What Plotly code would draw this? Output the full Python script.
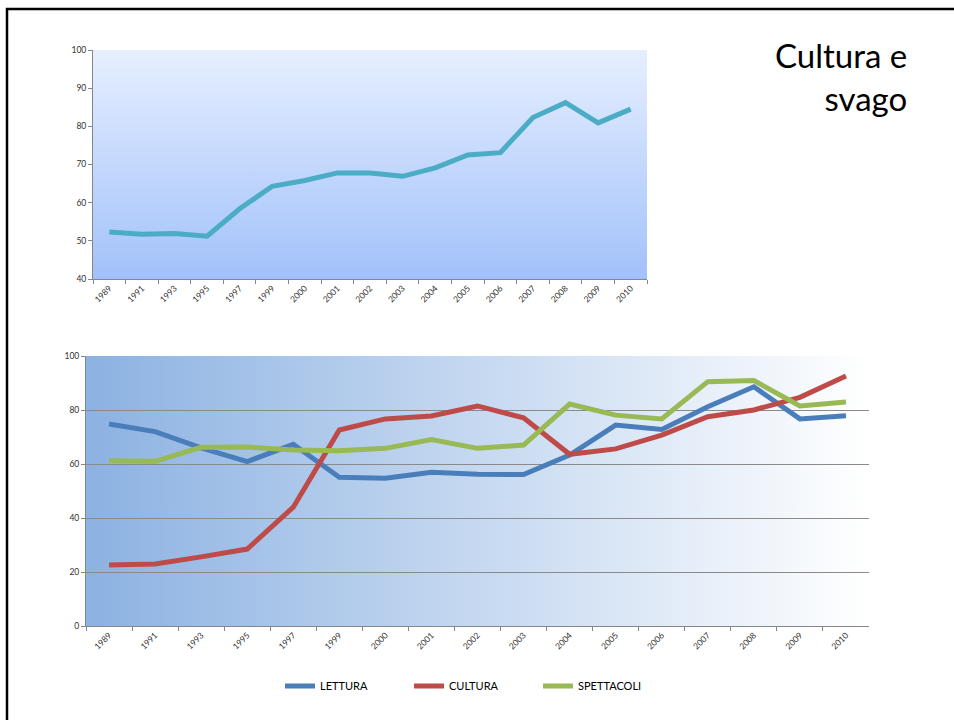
import base64
import plotly.graph_objects as go

years = ["1989", "1991", "1993", "1995", "1997", "1999", "2000", "2001", "2002",
         "2003", "2004", "2005", "2006", "2007", "2008", "2009", "2010"]

totale = [52.3, 51.7, 51.9, 51.2, 58.4, 64.3, 65.8, 67.8, 67.8,
          66.9, 69.1, 72.5, 73.1, 82.3, 86.2, 80.9, 84.5]

lettura = [74.8, 72.0, 66.0, 60.9, 67.3, 55.1, 54.7, 56.9, 56.2,
           56.1, 63.3, 74.4, 72.8, 81.2, 88.6, 76.7, 77.9]
cultura = [22.6, 23.0, 25.6, 28.5, 44.0, 72.6, 76.7, 77.8, 81.5,
           77.1, 63.6, 65.6, 70.7, 77.5, 80.0, 84.7, 92.6]
spettacoli = [61.2, 61.0, 66.2, 66.3, 65.2, 64.9, 65.8, 69.1, 65.8,
              67.0, 82.2, 78.1, 76.7, 90.5, 90.9, 81.5, 83.0]

W, H = 954, 720


def grad_uri(c1, c2, horizontal):
    if horizontal:
        coords = 'x1="0" y1="0" x2="1" y2="0"'
    else:
        coords = 'x1="0" y1="0" x2="0" y2="1"'
    svg = ('<svg xmlns="http://www.w3.org/2000/svg" width="100" height="100" '
           'preserveAspectRatio="none">'
           f'<defs><linearGradient id="g" {coords}>'
           f'<stop offset="0" stop-color="{c1}"/><stop offset="1" stop-color="{c2}"/>'
           '</linearGradient></defs><rect width="100" height="100" fill="url(#g)"/></svg>')
    return "data:image/svg+xml;base64," + base64.b64encode(svg.encode()).decode()


fig = go.Figure()

fig.add_trace(go.Scatter(x=years, y=totale, mode="lines", showlegend=False,
                         line=dict(color="#4bacc6", width=5), xaxis="x", yaxis="y"))

for name, vals, col in [("LETTURA", lettura, "#4a7ebb"),
                        ("CULTURA", cultura, "#be4b48"),
                        ("SPETTACOLI", spettacoli, "#98b954")]:
    fig.add_trace(go.Scatter(x=years, y=vals, mode="lines", name=name,
                             line=dict(color=col, width=5), xaxis="x2", yaxis="y2"))

xtickfont = dict(family="Lato", size=8.5, color="#303030")
ytickfont = dict(family="Lato", size=8.5, color="#303030")
axcol = "#868686"
xrange = [-0.5, len(years) - 0.5]

fig.update_layout(
    template="none",
    width=W, height=H,
    autosize=False,
    margin=dict(l=0, r=0, t=0, b=0, pad=0, autoexpand=False),
    paper_bgcolor="white",
    plot_bgcolor="rgba(0,0,0,0)",
    font=dict(family="Lato"),
    xaxis=dict(domain=[93 / W, 647 / W], type="category", tickson="boundaries",
               range=xrange,
               ticks="outside", ticklen=4, tickcolor=axcol, showline=True,
               linecolor=axcol, linewidth=1, showgrid=False, tickangle=-45,
               tickfont=xtickfont, anchor="y", automargin=False),
    yaxis=dict(domain=[1 - 279 / H, 1 - 50 / H], range=[40, 100], dtick=10,
               ticks="outside", ticklen=4, tickcolor=axcol, showline=True,
               linecolor=axcol, linewidth=1, showgrid=False, zeroline=False,
               tickfont=ytickfont, anchor="x", automargin=False),
    xaxis2=dict(domain=[86 / W, 869 / W], type="category", tickson="boundaries",
                range=xrange,
                ticks="outside", ticklen=4, tickcolor=axcol, showline=True,
                linecolor=axcol, linewidth=1, showgrid=False, tickangle=-45,
                tickfont=xtickfont, anchor="y2", automargin=False),
    yaxis2=dict(domain=[1 - 626 / H, 1 - 356 / H], range=[0, 100], dtick=20,
                ticks="outside", ticklen=4, tickcolor=axcol, showline=True,
                linecolor=axcol, linewidth=1, showgrid=True, gridcolor="#8a8a8a",
                gridwidth=1, zeroline=False, tickfont=ytickfont, anchor="x2",
                automargin=False),
    showlegend=True,
    legend=dict(orientation="h", x=280 / W, xanchor="left", y=1 - 686 / H,
                yanchor="middle", font=dict(family="Lato", size=11, color="#000000"),
                entrywidth=84, bgcolor="rgba(0,0,0,0)"),
    images=[
        dict(source=grad_uri("#e6efff", "#a2c1fa", False), xref="x domain",
             yref="y domain", x=0, y=1, sizex=1, sizey=1, xanchor="left",
             yanchor="top", sizing="stretch", layer="below"),
        dict(source=grad_uri("#8cb2e2", "#ffffff", True), xref="x2 domain",
             yref="y2 domain", x=0, y=1, sizex=1, sizey=1, xanchor="left",
             yanchor="top", sizing="stretch", layer="below"),
    ],
    annotations=[
        dict(text="Cultura e<br>svago", x=909 / W, y=1 - 33 / H, xref="paper",
             yref="paper", xanchor="right", yanchor="top", align="right",
             showarrow=False, font=dict(family="Lato", size=33, color="#000000")),
    ],
    shapes=[
        dict(type="path", xref="paper", yref="paper",
             path=f"M {7 / W},0 L {7 / W},{1 - 9 / H} L 1,{1 - 9 / H}",
             line=dict(color="#000000", width=2.5)),
    ],
)

fig.write_html("out.html", config={"displayModeBar": False},
               post_script="document.body.style.margin='0';document.body.style.overflow='hidden';")
